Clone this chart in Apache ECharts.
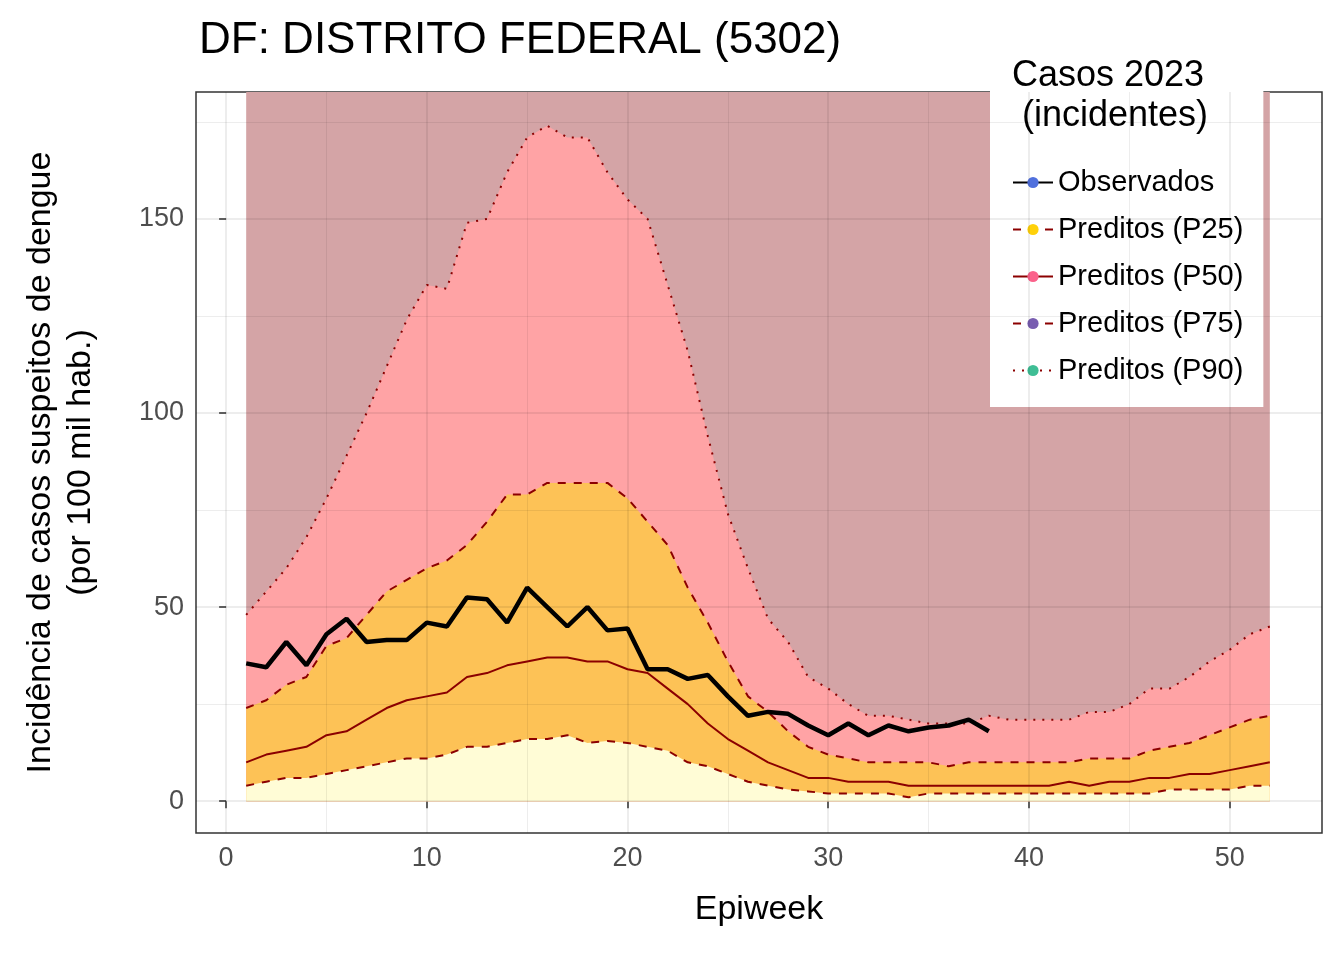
<!DOCTYPE html>
<html><head><meta charset="utf-8">
<script src="https://cdn.jsdelivr.net/npm/echarts@6/dist/echarts.min.js"></script>
<style>html,body{margin:0;background:#fff}#c{width:1344px;height:960px}</style>
</head><body><div id="c"></div>
<script>
const weeks = Array.from({length: 52}, (_, i) => i + 1);
const observed = [35.5,34.5,41,35,43,47,41,41.5,41.5,46,45,52.5,52,46,55,50,45,50,44,44.5,34,34,31.5,32.5,27,22,23,22.5,19.5,17,20,17,19.5,18,19,19.5,21,18];
const p25 = [4,5,6,6,7,8,9,10,11,11,12,14,14,15,16,16,17,15,15.5,15,14,13,10,9,7,5,4,3,2.5,2,2,2,2,1,2,2,2,2,2,2,2,2,2,2,2,2,3,3,3,3,4,4];
const p50 = [10,12,13,14,17,18,21,24,26,27,28,32,33,35,36,37,37,36,36,34,33,29,25,20,16,13,10,8,6,6,5,5,5,4,4,4,4,4,4,4,4,5,4,5,5,6,6,7,7,8,9,10];
const p75 = [24,26,30,32,40,42,48,54,57,60,62,66,72,79,79,82,82,82,82,78,72,66,55,46,36,27,23,18,14,12,11,10,10,10,10,9,10,10,10,10,10,10,11,11,11,13,14,15,17,19,21,22];
const p90 = [48,54,60,68,78,89,100,112,124,133,132,149,150,162,171,174,171,171,162,155,150,133,116,94,74,60,47,41,32,29,25,22,22,21,20,20,20,22,21,21,21,21,23,23,25,29,29,32,36,39,43,45];
const yTicks = [0, 50, 100, 150];
const xTicks = [0, 10, 20, 30, 40, 50];
const yMin = -8.2, yMax = 182.7, xMin = -1.5, xMax = 54.6;

const pairs = arr => arr.map((v, i) => [weeks[i], v]);
const red = '#8b0000';

function area(name, vals, color, z) {
  return { name, type: 'line', data: pairs(vals), symbol: 'none', silent: true,
    lineStyle: { width: 0 }, areaStyle: { color, opacity: 1 }, z };
}
function line(name, vals, style) {
  return { name, type: 'line', data: pairs(vals), symbol: 'none', silent: true, z: 10, lineStyle: style };
}

const gridLinesY = [];
for (let v = 0; v <= 175; v += 25) gridLinesY.push({ yAxis: v, lineStyle: { width: v % 50 ? 1 : 2 } });
const gridLinesX = [];
for (let v = 0; v <= 50; v += 5) gridLinesX.push({ xAxis: v, lineStyle: { width: v % 10 ? 1 : 2 } });

const upperBand = weeks.map(() => yMax);

const chart = echarts.init(document.getElementById('c'));
chart.setOption({
  animation: false,
  textStyle: { fontFamily: 'Liberation Sans, Arial, sans-serif' },
  title: { text: 'DF: DISTRITO FEDERAL (5302)', left: 194, top: 14,
    textStyle: { fontSize: 44, fontWeight: 'normal', color: '#000' } },
  grid: { left: 196, right: 22, top: 92, bottom: 127, show: true, borderColor: '#333', borderWidth: 1.5 },
  xAxis: { type: 'value', min: xMin, max: xMax, name: 'Epiweek', nameLocation: 'middle', nameGap: 60,
    nameTextStyle: { fontSize: 34, color: '#000' },
    axisLine: { show: false }, splitLine: { show: false },
    axisTick: { show: true, customValues: xTicks, length: 7, lineStyle: { color: '#333', width: 1.5 } },
    axisLabel: { customValues: xTicks, fontSize: 27, color: '#4d4d4d', margin: 12 } },
  yAxis: { type: 'value', min: yMin, max: yMax, name: 'Incidência de casos suspeitos de dengue\n(por 100 mil hab.)',
    nameLocation: 'middle', nameGap: 95, nameRotate: 90,
    nameTextStyle: { fontSize: 34, color: '#000', lineHeight: 40 },
    axisLine: { show: false }, splitLine: { show: false },
    axisTick: { show: true, customValues: yTicks, length: 7, lineStyle: { color: '#333', width: 1.5 } },
    axisLabel: { customValues: yTicks, fontSize: 27, color: '#4d4d4d', margin: 12 } },
  legend: {
    data: ['Observados', 'Preditos (P25)', 'Preditos (P50)', 'Preditos (P75)', 'Preditos (P90)'],
    orient: 'vertical', left: 990, top: 50, width: 280, padding: [118, 20, 22, 22],
    backgroundColor: '#fff', itemWidth: 40, itemHeight: 14, itemGap: 18,
    textStyle: { fontSize: 29, color: '#000' }
  },
  graphic: [{ type: 'text', left: 1012, top: 56, z: 100,
    style: { text: 'Casos 2023\n (incidentes)', fontSize: 36, lineHeight: 40, fill: '#000',
      fontFamily: 'Liberation Sans, Arial, sans-serif' } }],
  series: [
    area('upper', upperBand, '#d4a4a6', 1),
    area('a90', p90, '#ffa3a5', 2),
    area('a75', p75, '#fdc256', 3),
    area('a25', p25, '#fffcd6', 4),
    { type: 'line', data: [], silent: true, z: 5,
      markLine: { silent: true, symbol: 'none', label: { show: false },
        lineStyle: { color: 'rgba(0,0,0,0.07)', type: 'solid' },
        data: gridLinesY.concat(gridLinesX) } },
    line('Preditos (P25)', p25, { color: red, width: 2, type: [8, 8] }),
    line('Preditos (P50)', p50, { color: red, width: 2, type: 'solid' }),
    line('Preditos (P75)', p75, { color: red, width: 2, type: [8, 8] }),
    line('Preditos (P90)', p90, { color: red, width: 2, type: [2, 7] }),
    line('Observados', observed, { color: '#000', width: 4.5 })
  ]
});
</script></body></html>
